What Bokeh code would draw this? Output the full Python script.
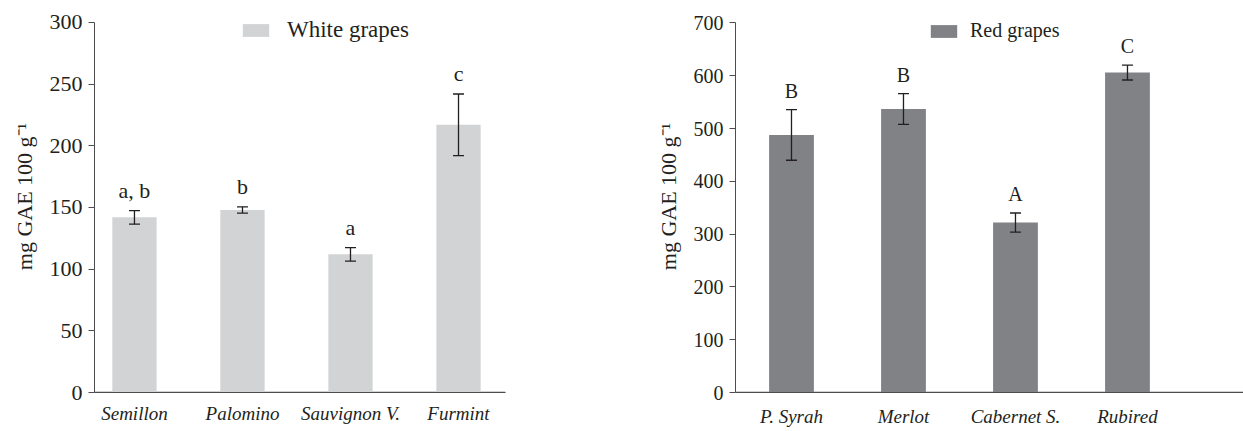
from bokeh.plotting import figure
from bokeh.models import (ColumnDataSource, Range1d, FixedTicker, Whisker,
                          Legend, LegendItem)
from bokeh.layouts import row
from bokeh.core.properties import value
from bokeh.embed import file_html
from bokeh.resources import INLINE

# ---- data ----
white_cats = ["Semillon", "Palomino", "Sauvignon V.", "Furmint"]
white_vals = [142, 148, 112, 217]
white_err = [5.5, 2.5, 5.5, 25]
white_letters = ["a, b", "b", "a", "c"]

red_cats = ["P. Syrah", "Merlot", "Cabernet S.", "Rubired"]
red_vals = [488, 537, 322, 606]
red_err = [48, 29, 18, 14]
red_letters = ["B", "B", "A", "C"]

white_ticks = [0, 50, 100, 150, 200, 250, 300]
red_ticks = [0, 100, 200, 300, 400, 500, 600, 700]

FONT = "Liberation Serif"
TXT = "#231f20"
AX = "#4d4d4f"
YLABEL = "mg GAE 100 g\u207b\u00b9"


def panel(cats, vals, errs, letters, ticks, ymax, yend, color, legend_label,
          width, xr, bar_w, borders, leg_loc, xlab_standoff, fs):
    idx = list(range(len(cats)))
    src = ColumnDataSource(dict(
        x=idx, top=vals,
        lower=[v - e for v, e in zip(vals, errs)],
        upper=[v + e for v, e in zip(vals, errs)],
        lab=letters))
    p = figure(width=width, height=431, output_backend="svg",
               toolbar_location=None, x_range=Range1d(*xr),
               y_range=Range1d(0, yend),
               min_border_left=borders[0], min_border_right=borders[1],
               min_border_top=borders[2], min_border_bottom=borders[3])
    p.outline_line_color = None
    p.xgrid.visible = False
    p.ygrid.visible = False
    p.background_fill_color = "white"
    p.border_fill_color = "white"

    # baseline across the whole plot area, spanning the x range
    p.segment(x0=[p.x_range.start], x1=[p.x_range.end], y0=[0], y1=[0],
              line_color=AX, line_width=1.5)

    r = p.vbar(x="x", top="top", width=bar_w, source=src,
               fill_color=color, line_color=None)
    w = Whisker(base="x", lower="lower", upper="upper", source=src,
                line_color=TXT, line_width=1.3, level="overlay")
    for h in (w.upper_head, w.lower_head):
        h.size = 11
        h.line_color = TXT
        h.line_width = 1.3
    p.add_layout(w)

    p.text(x="x", y="upper", text="lab", source=src, text_align="center",
           text_baseline="bottom", y_offset=-8,
           text_font=value(FONT), text_font_size=fs["letters"],
           text_color=TXT)

    yax = p.yaxis[0]
    xax = p.xaxis[0]
    yax.ticker = FixedTicker(ticks=ticks)
    yax.bounds = (0, ymax)
    yax.minor_tick_line_color = None
    yax.major_tick_in = 0
    yax.major_tick_out = 6
    yax.axis_line_color = AX
    yax.major_tick_line_color = AX
    yax.major_label_text_font = FONT
    yax.major_label_text_font_size = fs["ticks"]
    yax.major_label_text_color = TXT
    yax.major_label_standoff = 6
    yax.axis_label = YLABEL
    yax.axis_label_text_font = FONT
    yax.axis_label_text_font_style = "normal"
    yax.axis_label_text_font_size = "22px"
    yax.axis_label_text_color = TXT
    yax.axis_label_standoff = 10

    xax.ticker = FixedTicker(ticks=idx)
    xax.major_label_overrides = {i: c for i, c in zip(idx, cats)}
    xax.minor_tick_line_color = None
    xax.major_tick_in = 0
    xax.major_tick_out = 0
    xax.axis_line_color = AX
    xax.major_label_text_font = FONT
    xax.major_label_text_font_style = "italic"
    xax.major_label_text_font_size = "19px"
    xax.major_label_text_color = TXT
    xax.major_label_standoff = xlab_standoff

    leg = Legend(items=[LegendItem(label=legend_label, renderers=[r])],
                 location=leg_loc, padding=0, margin=0, spacing=0,
                 glyph_width=33, glyph_height=16,
                 label_standoff=fs["standoff"],
                 border_line_alpha=0, background_fill_alpha=0,
                 label_text_font=FONT, label_text_font_size=fs["legend"],
                 label_text_color=TXT)
    p.add_layout(leg)
    return p


left = panel(white_cats, white_vals, white_err, white_letters, white_ticks,
             300, 317.8, "#d1d3d4", "White grapes", 630, (-0.37, 3.435), 0.41,
             (94, 125, 0, 39), (145, 349), 10,
             dict(letters="22px", ticks="22px", legend="23px", standoff=15))
right = panel(red_cats, red_vals, red_err, red_letters, red_ticks,
              700, 742.6, "#808285", "Red grapes", 613, (-0.5, 4.036), 0.40,
              (105, 0, 0, 35), (192, 350), 13,
              dict(letters="20px", ticks="20px", legend="20px", standoff=10))

layout = row(left, right)
open("out.html", "w").write(file_html(layout, INLINE))
